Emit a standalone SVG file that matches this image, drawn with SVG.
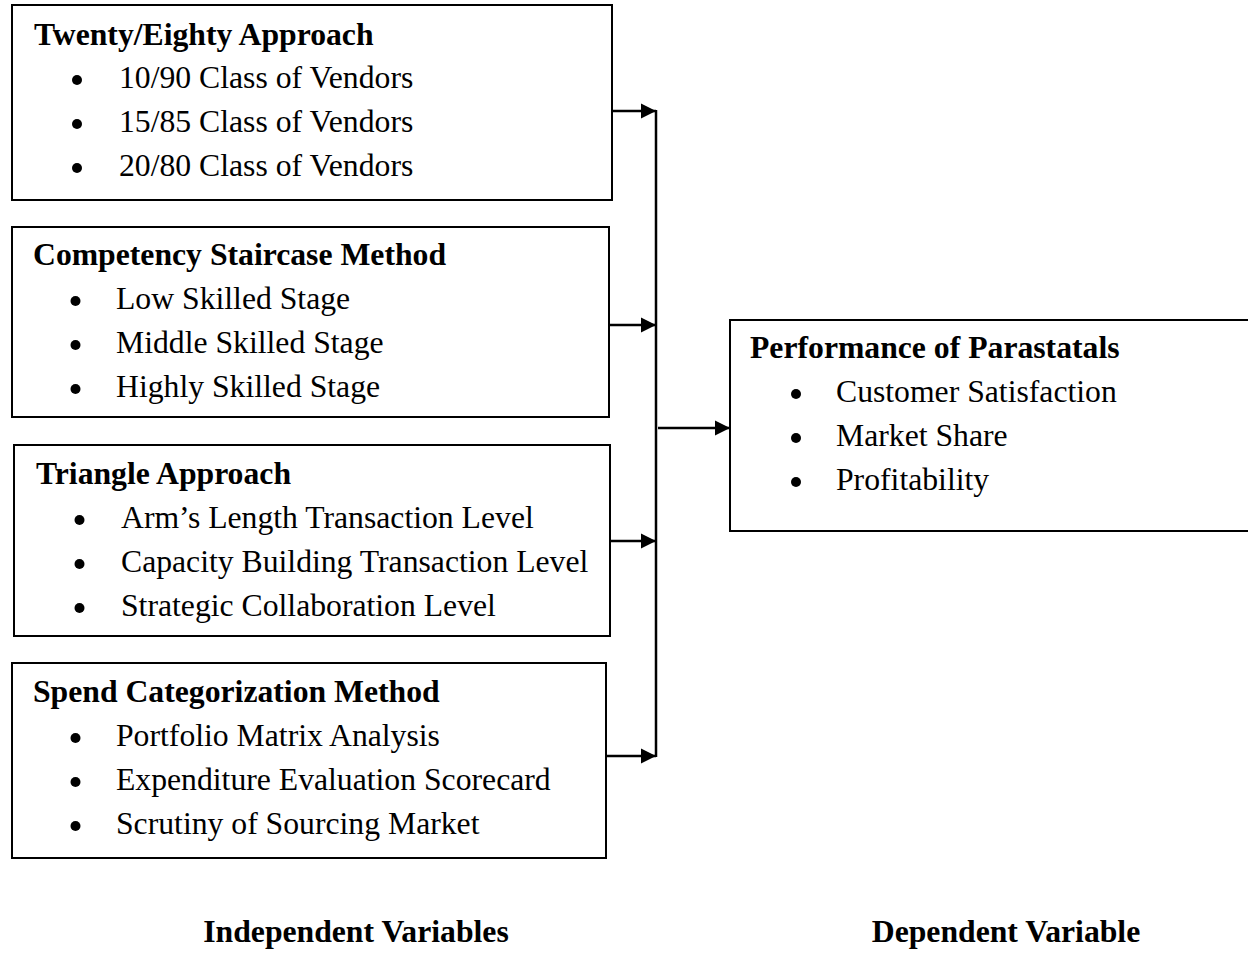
<svg xmlns="http://www.w3.org/2000/svg" width="1248" height="953" viewBox="0 0 1248 953">
<style>
.box{fill:#fff;stroke:#000;stroke-width:2}
.t{font-family:"Liberation Serif","Times New Roman",serif;font-size:31.7px;fill:#000}
.b{font-weight:bold}
.dot{fill:#000}
.ln{stroke:#000;stroke-width:2.5;fill:none}
</style>
<defs>
<marker id="ah" markerUnits="userSpaceOnUse" markerWidth="16" markerHeight="16" refX="15" refY="8" orient="auto">
<path d="M0,0.5 L15,8 L0,15.5 Z" fill="#000"/>
</marker>
</defs>
<rect width="1248" height="953" fill="#fff"/>
<g id="n1">
<rect class="box" x="12" y="5" width="600" height="195"/>
<text class="t b" x="34" y="45">Twenty/Eighty Approach</text>
<circle class="dot" cx="77" cy="80" r="5"/><text class="t" x="119" y="88">10/90 Class of Vendors</text>
<circle class="dot" cx="77" cy="124" r="5"/><text class="t" x="119" y="132">15/85 Class of Vendors</text>
<circle class="dot" cx="77" cy="168" r="5"/><text class="t" x="119" y="176">20/80 Class of Vendors</text>
</g>
<g id="n2">
<rect class="box" x="12" y="227" width="597" height="190"/>
<text class="t b" x="33" y="265">Competency Staircase Method</text>
<circle class="dot" cx="75.5" cy="301" r="5"/><text class="t" x="116" y="309">Low Skilled Stage</text>
<circle class="dot" cx="75.5" cy="345" r="5"/><text class="t" x="116" y="353">Middle Skilled Stage</text>
<circle class="dot" cx="75.5" cy="389" r="5"/><text class="t" x="116" y="397">Highly Skilled Stage</text>
</g>
<g id="n3">
<rect class="box" x="14" y="445" width="596" height="191"/>
<text class="t b" x="36" y="484">Triangle Approach</text>
<circle class="dot" cx="79.5" cy="520" r="5"/><text class="t" x="121" y="528">Arm’s Length Transaction Level</text>
<circle class="dot" cx="79.5" cy="564" r="5"/><text class="t" x="121" y="572">Capacity Building Transaction Level</text>
<circle class="dot" cx="79.5" cy="608" r="5"/><text class="t" x="121" y="616">Strategic Collaboration Level</text>
</g>
<g id="n4">
<rect class="box" x="12" y="663" width="594" height="195"/>
<text class="t b" x="33" y="702">Spend Categorization Method</text>
<circle class="dot" cx="75.5" cy="738" r="5"/><text class="t" x="116" y="746">Portfolio Matrix Analysis</text>
<circle class="dot" cx="75.5" cy="782" r="5"/><text class="t" x="116" y="790">Expenditure Evaluation Scorecard</text>
<circle class="dot" cx="75.5" cy="826" r="5"/><text class="t" x="116" y="834">Scrutiny of Sourcing Market</text>
</g>
<g id="n5">
<rect class="box" x="730" y="320" width="525" height="211"/>
<text class="t b" x="750" y="358">Performance of Parastatals</text>
<circle class="dot" cx="796" cy="394" r="5"/><text class="t" x="836" y="402">Customer Satisfaction</text>
<circle class="dot" cx="796" cy="438" r="5"/><text class="t" x="836" y="446">Market Share</text>
<circle class="dot" cx="796" cy="482" r="5"/><text class="t" x="836" y="490">Profitability</text>
</g>
<g id="connectors">
<line class="ln" x1="656" y1="110" x2="656" y2="757"/>
<line class="ln" x1="612" y1="111" x2="656" y2="111" marker-end="url(#ah)"/>
<line class="ln" x1="609" y1="325" x2="656" y2="325" marker-end="url(#ah)"/>
<line class="ln" x1="610" y1="541" x2="656" y2="541" marker-end="url(#ah)"/>
<line class="ln" x1="606" y1="756" x2="656" y2="756" marker-end="url(#ah)"/>
<line class="ln" x1="658" y1="428" x2="730" y2="428" marker-end="url(#ah)"/>
</g>
<g id="labels">
<text class="t b" x="356" y="942" text-anchor="middle">Independent Variables</text>
<text class="t b" x="1006" y="942" text-anchor="middle">Dependent Variable</text>
</g>
</svg>
